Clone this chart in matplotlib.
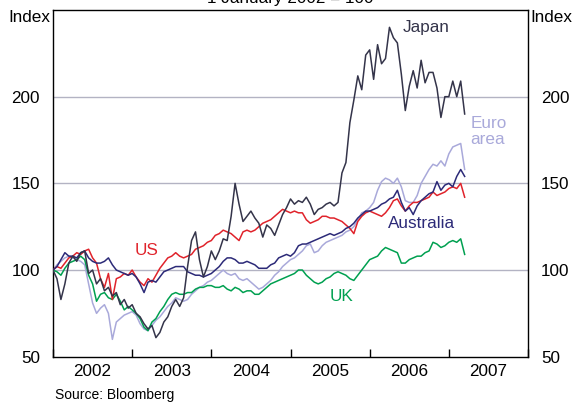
import matplotlib
matplotlib.use("Agg")
import matplotlib.pyplot as plt
import numpy as np

plt.rcParams['font.family'] = ['Liberation Sans', 'DejaVu Sans']

# sampled roughly every 2.6 weeks, Jan 2002 - Mar 2007 (1 January 2002 = 100)
years = np.linspace(2002, 2007.2, 105)

japan = [100, 95, 83, 92, 104, 108, 105, 110, 111, 98,
         100, 92, 95, 88, 90, 85, 87, 80, 83, 78,
         80, 75, 73, 69, 66, 68, 61, 64, 70, 73,
         79, 83, 79, 84, 102, 117, 122, 106, 96, 102,
         111, 106, 111, 118, 117, 131, 150, 138, 128, 131,
         134, 130, 127, 119, 126, 124, 120, 126, 132, 136,
         141, 138, 140, 139, 142, 138, 132, 135, 136, 138,
         139, 137, 139, 156, 162, 185, 198, 212, 204, 224,
         227, 210, 230, 219, 222, 240, 234, 231, 213, 192,
         206, 215, 205, 221, 208, 214, 214, 205, 188, 200,
         200, 209, 200, 209, 190]

us = [100, 102, 101, 104, 107, 108, 110, 109, 111, 112,
      107, 104, 95, 90, 98, 83, 95, 96, 98, 97,
      100, 96, 93, 91, 95, 93, 97, 101, 104, 107,
      108, 110, 108, 107, 108, 109, 112, 113, 114, 116,
      117, 120, 121, 123, 122, 121, 119, 117, 122, 123,
      122, 123, 125, 127, 128, 129, 131, 133, 135, 134,
      133, 134, 133, 133, 129, 127, 128, 129, 131, 131,
      130, 130, 129, 128, 126, 124, 121, 128, 131, 133,
      134, 133, 132, 131, 133, 136, 140, 141, 137, 134,
      137, 139, 139, 140, 141, 142, 145, 143, 144, 145,
      147, 148, 147, 150, 142]

australia = [100, 102, 106, 110, 108, 108, 107, 110, 111, 107,
             105, 104, 104, 105, 107, 103, 100, 99, 98, 97,
             98, 96, 92, 87, 93, 94, 93, 96, 99, 100,
             101, 102, 102, 102, 99, 98, 97, 97, 96, 97,
             98, 100, 102, 105, 107, 107, 106, 104, 104, 105,
             104, 103, 101, 101, 101, 103, 104, 107, 108, 109,
             108, 110, 114, 115, 115, 116, 117, 118, 119, 120,
             121, 120, 121, 122, 124, 125, 127, 130, 132, 134,
             134, 135, 136, 138, 139, 141, 142, 146, 139, 134,
             136, 132, 137, 140, 142, 144, 145, 151, 146, 149,
             150, 148, 154, 158, 154]

uk = [100, 99, 97, 101, 104, 105, 106, 108, 106, 97,
      92, 82, 86, 87, 84, 83, 86, 82, 77, 79,
      77, 75, 72, 67, 65, 70, 72, 76, 79, 83,
      86, 87, 86, 86, 87, 87, 89, 90, 90, 91,
      91, 90, 90, 91, 89, 88, 90, 89, 87, 88,
      88, 86, 86, 88, 90, 92, 93, 94, 95, 96,
      97, 98, 100, 100, 97, 95, 93, 92, 93, 95,
      96, 98, 99, 98, 97, 95, 94, 97, 100, 103,
      106, 107, 108, 111, 113, 112, 111, 110, 104, 104,
      106, 107, 108, 108, 110, 111, 116, 115, 113, 114,
      116, 117, 116, 118, 109]

euro = [100, 103, 105, 107, 108, 107, 106, 105, 103, 92,
        81, 75, 78, 80, 75, 60, 70, 72, 74, 75,
        76, 74, 69, 66, 65, 68, 71, 73, 76, 79,
        81, 84, 83, 82, 83, 86, 88, 90, 91, 93,
        94, 96, 98, 100, 98, 97, 98, 95, 94, 95,
        93, 91, 89, 90, 92, 94, 97, 99, 102, 104,
        106, 107, 109, 111, 114, 115, 110, 111, 114, 116,
        117, 118, 119, 120, 122, 123, 125, 129, 133, 134,
        136, 139, 146, 151, 153, 152, 150, 153, 148, 140,
        139, 139, 143, 150, 154, 158, 161, 160, 163, 160,
        167, 171, 172, 173, 158]

year_labels = ['2002', '2003', '2004', '2005', '2006', '2007']

c_japan = '#34344a'
c_us = '#e0232b'
c_aus = '#2c2a78'
c_uk = '#00a050'
c_euro = '#a9a9da'

fig = plt.figure(figsize=(5.73, 4.07), dpi=100)
ax = fig.add_axes([53 / 573, 1 - 356.7 / 407, 475 / 573, 346.7 / 407])

for v in [100, 150, 200]:
    ax.axhline(v, color='#b3b3c3', lw=1, zorder=1)

lw = 1.1
ax.plot(years, euro, color=c_euro, lw=lw, zorder=2)
ax.plot(years, uk, color=c_uk, lw=lw, zorder=3)
ax.plot(years, us, color=c_us, lw=lw, zorder=4)
ax.plot(years, australia, color=c_aus, lw=lw, zorder=5)
ax.plot(years, japan, color=c_japan, lw=lw, zorder=6)

fs = 12.3
ax.text(2006.42, 240, 'Japan', color=c_japan, fontsize=fs, va='center')
ax.text(2007.27, 180, 'Euro\narea', color=c_euro, fontsize=fs, va='center', linespacing=1.1)
ax.text(2003.03, 111.5, 'US', color=c_us, fontsize=fs, va='center')
ax.text(2006.23, 127, 'Australia', color=c_aus, fontsize=fs, va='center')
ax.text(2005.50, 85, 'UK', color=c_uk, fontsize=fs, va='center')

ax.set_xlim(2002, 2008)
ax.set_ylim(50, 250)
ax.set_yticks([50, 100, 150, 200])
ax.tick_params(axis='y', left=False, right=False, labelleft=True,
               labelright=True, labelsize=fs, pad=6)
ax.set_xticks(range(2002, 2009))
ax.set_xticklabels([])
ax.tick_params(axis='x', which='major', direction='in', length=6, width=1)
ax.set_xticks(np.arange(2002.5, 2008, 1), minor=True)
ax.set_xticklabels(year_labels, minor=True)
ax.tick_params(axis='x', which='minor', length=0, labelsize=fs, pad=5)

for s in ax.spines.values():
    s.set_linewidth(1)

fig.text(8 / 573, 1 - 17 / 407, 'Index', fontsize=fs, va='center', ha='left')
fig.text(572 / 573, 1 - 17 / 407, 'Index', fontsize=fs, va='center', ha='right')
fig.text(0.507, 1 - 3 / 407, '1 January 2002 = 100', fontsize=fs,
         ha='center', va='baseline')
fig.text(55 / 573, 1 - 395 / 407, 'Source: Bloomberg', fontsize=10, va='center')

fig.savefig('out.png', dpi=100)
